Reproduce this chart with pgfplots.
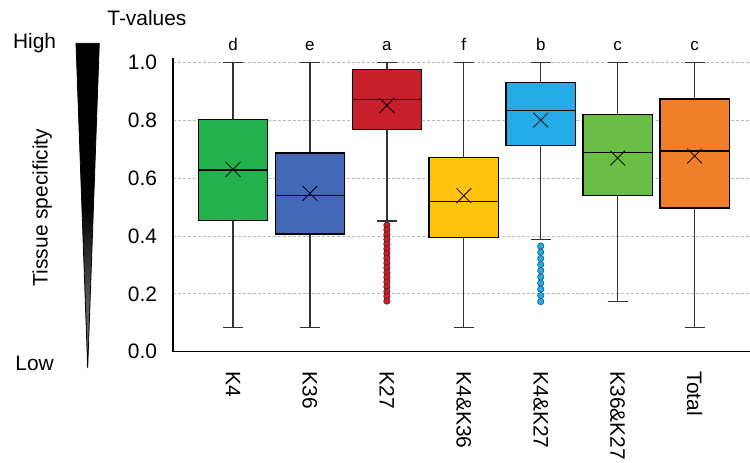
\documentclass[border=0pt]{standalone}
\usepackage{fontspec}
\setmainfont{Liberation Sans}
\usepackage{pgfplots}
\pgfplotsset{compat=1.18}
\usepgfplotslibrary{statistics}
\definecolor{cA}{RGB}{34,177,76}
\definecolor{cB}{RGB}{68,104,184}
\definecolor{cC}{RGB}{200,32,42}
\definecolor{cD}{RGB}{255,194,15}
\definecolor{cE}{RGB}{36,172,230}
\definecolor{cF}{RGB}{106,189,69}
\definecolor{cG}{RGB}{240,126,43}
\pgfdeclareverticalshading{wedge}{100bp}{color(0bp)=(black!75); color(15bp)=(black!50); color(35bp)=(black!65); color(50bp)=(black); color(100bp)=(black)}
\pgfplotsset{avg/.style={boxplot/every average/.style={/tikz/mark=x, /tikz/mark size=5.2pt, /tikz/mark options={draw=#1, line width=1pt}}}}
\begin{document}
\begin{tikzpicture}[font=\fontsize{10.5}{12.5}\selectfont]
\begin{axis}[
  scale only axis, width=288.5bp, height=146.9bp,
  xmin=-0.78, xmax=6.72, ymin=0, ymax=1.015,
  axis lines=left, axis line style={-, black, line width=0.6pt},
  clip=false,
  ytick={0,0.2,0.4,0.6,0.8,1.0},
  yticklabel style={/pgf/number format/fixed, /pgf/number format/fixed zerofill, /pgf/number format/precision=1},
  /pgf/number format/assume math mode=true,
  yticklabel shift=4.5bp,
  ymajorgrids, major grid style={gray!55, line width=0.4pt, dash pattern=on 1.5pt off 1pt},
  xtick={0,1,2,3,4,5,6},
  xticklabels={K4,K36,K27,K4\&K36,K4\&K27,K36\&K27,Total},
  xticklabel style={rotate=-90, anchor=west},
  xticklabel shift=6.5bp,
  major tick length=0pt,
  boxplot/draw direction=y,
  boxplot/box extend=0.9, boxplot/whisker extend=0.26,
  boxplot/every whisker/.style={draw=black!80, line width=0.65pt},
  boxplot/every box/.style={draw=black, line width=0.7pt},
  boxplot/every median/.style={draw=black, line width=0.7pt},
]
\addplot[boxplot prepared={draw position=0, lower whisker=0.083, lower quartile=0.454, median=0.628, upper quartile=0.803, upper whisker=1.0, average=0.630}, fill=cA, avg=cA!40!black] coordinates {};
\addplot[boxplot prepared={draw position=1, lower whisker=0.083, lower quartile=0.407, median=0.540, upper quartile=0.687, upper whisker=1.0, average=0.547}, fill=cB, avg=cB!40!black] coordinates {};
\addplot[boxplot prepared={draw position=2, lower whisker=0.452, lower quartile=0.767, median=0.872, upper quartile=0.975, upper whisker=1.0, average=0.851}, fill=cC, avg=cC!35!black, mark=*, mark size=1.6pt, mark options={fill=cC, draw=cC!50!black, line width=0.3pt}] table[row sep=\\, y index=0] {y\\ 0.437\\ 0.421\\ 0.404\\ 0.388\\ 0.372\\ 0.355\\ 0.339\\ 0.323\\ 0.306\\ 0.290\\ 0.273\\ 0.257\\ 0.241\\ 0.224\\ 0.208\\ 0.192\\ 0.175\\};
\addplot[boxplot prepared={draw position=3, lower whisker=0.083, lower quartile=0.395, median=0.519, upper quartile=0.670, upper whisker=1.0, average=0.539}, fill=cD, avg=cD!35!black] coordinates {};
\addplot[boxplot prepared={draw position=4, lower whisker=0.388, lower quartile=0.713, median=0.834, upper quartile=0.929, upper whisker=1.0, average=0.800}, fill=cE, avg=cE!35!black, mark=*, mark size=1.6pt, mark options={fill=cE, draw=cE!50!black, line width=0.3pt}] table[row sep=\\, y index=0] {y\\ 0.365\\ 0.344\\ 0.322\\ 0.301\\ 0.280\\ 0.258\\ 0.237\\ 0.216\\ 0.194\\ 0.173\\};
\addplot[boxplot prepared={draw position=5, lower whisker=0.173, lower quartile=0.539, median=0.689, upper quartile=0.819, upper whisker=1.0, average=0.669}, fill=cF, avg=cF!55!black] coordinates {};
\addplot[boxplot prepared={draw position=6, lower whisker=0.083, lower quartile=0.496, median=0.694, upper quartile=0.873, upper whisker=1.0, average=0.676}, fill=cG, avg=cG!35!black] coordinates {};
\foreach \x/\l in {0/d,1/e,2/a,3/f,4/b,5/c,6/c}{
  \edef\tmp{\noexpand\node[anchor=base, font=\noexpand\fontsize{8.5}{10}\noexpand\selectfont] at (axis cs:\x,1.042) {\l};}\tmp
}
\coordinate (O) at (rel axis cs:0,0);
\end{axis}
\begin{scope}[shift={(O)}]
\shadedraw[shading=wedge, draw=black, line width=0.4pt] (-48.5bp,154.2bp) -- (-36.85bp,154.2bp) -- (-42.65bp,-8.15bp) -- cycle;
\node[anchor=base west, inner sep=0] at (-80.15bp,151.35bp) {High};
\node[anchor=base west, inner sep=0] at (-79bp,-9.15bp) {Low};
\node[rotate=90, anchor=base, inner sep=0] at (-62.65bp,72.1bp) {Tissue specificity};
\node[anchor=base west, inner sep=0] at (-33bp,162.85bp) {T-values};
\pgfresetboundingbox
\path[use as bounding box] (-86.5bp,-55.65bp) rectangle (288.5bp,175.85bp);
\end{scope}
\end{tikzpicture}
\end{document}
